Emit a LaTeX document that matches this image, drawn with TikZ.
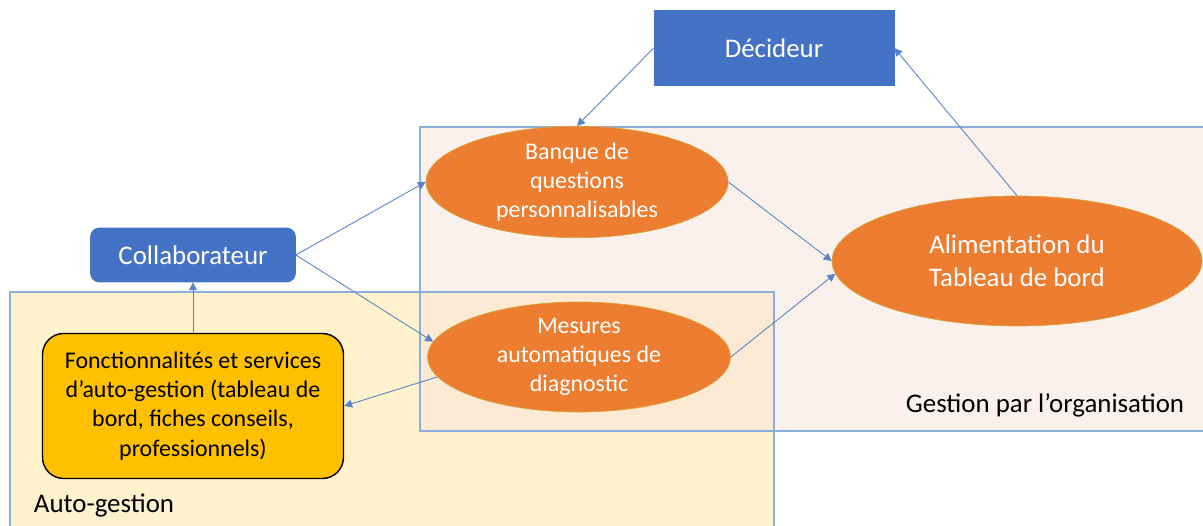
\documentclass[tikz,border=0pt]{standalone}
\usepackage{fontspec}
\setmainfont{Carlito}
\usetikzlibrary{shapes.geometric,arrows.meta}

\definecolor{decblue}{HTML}{4472C4}
\definecolor{ovalorange}{HTML}{ED7D31}
\definecolor{ovalrim}{HTML}{D9A23A}
\definecolor{servgold}{HTML}{FFC000}
\definecolor{orgpink}{HTML}{FBF1EC}
\definecolor{autoyellow}{HTML}{FFF2CC}
\definecolor{bothpeach}{HTML}{FCEAD5}
\definecolor{zoneline}{HTML}{8AAFD8}
\definecolor{linkblue}{HTML}{5A82C8}

\begin{document}
\begin{tikzpicture}[x=0.02cm, y=-0.02cm,
	actor/.style={fill=decblue, draw=decblue, text=white, font=\fontsize{15.3}{18}\selectfont},
	oval/.style={ellipse, fill=ovalorange, draw=ovalrim, text=white, inner sep=0pt, align=center, font=\fontsize{13.6}{16.6}\selectfont},
	zone/.style={draw=zoneline, line width=0.7pt},
	zonetext/.style={font=\fontsize{15.3}{18}\selectfont},
	link/.style={draw=linkblue, line width=0.5pt, -{Triangle[width=4.5pt,length=4.5pt]}}]
		\clip (0,0) rectangle (1203,526);
		% zones
		\fill[autoyellow] (10,292) rectangle (774,540);
		\fill[orgpink] (420,127) rectangle (1220,431);
		\fill[bothpeach] (420,292) rectangle (774,431);
		\draw[zone] (10,540) -- (10,292) -- (774,292) -- (774,540);
		\draw[zone] (1220,127) -- (420,127) -- (420,431) -- (1220,431);
		\node[zonetext] (orglabel) at (1045,405) {Gestion par l’organisation};
		\node[zonetext] (autolabel) at (104,506) {Auto-gestion};
		% nodes
		\node[actor, minimum width=4.8cm, minimum height=1.5cm] (dec) at (774,48) {Décideur};
		\node[actor, rounded corners=5pt, minimum width=4.1cm, minimum height=1.08cm] (collab) at (193,255) {Collaborateur};
		\node[oval, minimum width=6.04cm, minimum height=2cm] (banque) at (577,182) {Banque de\\questions\\personnalisables};
		\node[oval, minimum width=6.06cm, minimum height=2cm] (mesures) at (579,357) {Mesures\\automatiques de\\diagnostic};
		\node[oval, minimum width=7.4cm, minimum height=2.6cm, font=\fontsize{15.3}{18.6}\selectfont] (alim) at (1017,261) {Alimentation du\\Tableau de bord};
		\node[fill=servgold, draw=black, line width=0.8pt, rounded corners=12pt, align=center, minimum width=6.02cm, minimum height=2.9cm, font=\fontsize{13.6}{16.6}\selectfont] (fonct) at (193,406) {Fonctionnalités et services\\d’auto-gestion (tableau de\\bord, fiches conseils,\\professionnels)};
		% links
		\draw[link] (dec.west) -- (banque.north);
		\draw[link] (alim.north) -- (dec.east);
		\draw[link] (collab.east) -- (banque.west);
		\draw[link] (collab.east) -- (mesures.174);
		\draw[link] (mesures.188) -- (fonct.east);
		\draw[link] (banque.east) -- (alim.west);
		\draw[link] (mesures.east) -- (alim.184);
		\draw[link] (fonct.north) -- (collab.south);
\end{tikzpicture}
\end{document}
